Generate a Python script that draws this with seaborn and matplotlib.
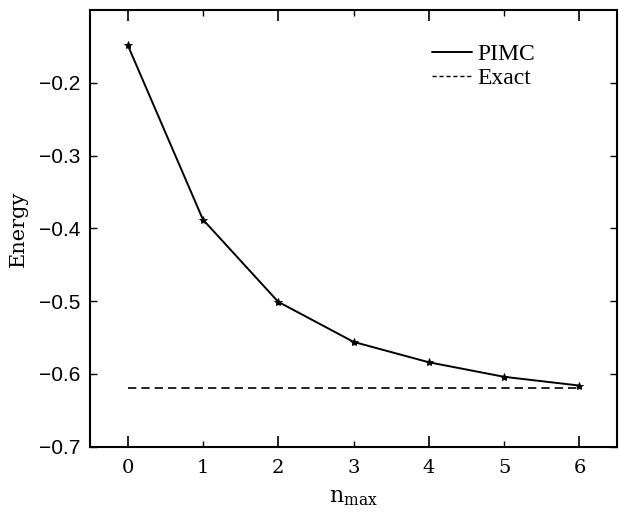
import matplotlib
matplotlib.use("Agg")
import matplotlib.pyplot as plt
import seaborn as sns
import pandas as pd
from matplotlib.lines import Line2D

# data
n_max = [0, 1, 2, 3, 4, 5, 6]
pimc = [-0.148, -0.388, -0.501, -0.556, -0.584, -0.604, -0.616]
exact = [-0.620] * 7

sns.set_style("ticks")
plt.rcParams['font.family'] = ['DejaVu Serif']
plt.rcParams['text.color'] = 'black'
plt.rcParams['axes.labelcolor'] = 'black'
plt.rcParams['xtick.color'] = 'black'
plt.rcParams['ytick.color'] = 'black'
plt.rcParams['axes.edgecolor'] = 'black'

df = pd.DataFrame({"n_max": n_max, "PIMC": pimc, "Exact": exact})

fig = plt.figure(figsize=(6.19, 5.15), dpi=100)
ax = fig.add_axes([0.1454, 0.1326, 0.8516, 0.848])

sns.lineplot(data=df, x="n_max", y="PIMC", ax=ax, color="black", lw=1.4,
             marker="*", markersize=6, markeredgewidth=0.6,
             markeredgecolor="black", markerfacecolor="black")
sns.lineplot(data=df, x="n_max", y="Exact", ax=ax, color="black", lw=1.2,
             dashes=(5, 3))

ax.set_xlim(-0.5, 6.5)
ax.set_ylim(-0.7, -0.1)

# long ticks on even, short on odd, everything pointing inward
ax.set_xticks([0, 2, 4, 6])
ax.set_xticks([1, 3, 5], minor=True)
ax.set_xticklabels(["0", "2", "4", "6"])
ax.set_xticklabels(["1", "3", "5"], minor=True)
ax.set_yticks([-0.7, -0.6, -0.5, -0.4, -0.3, -0.2])
ax.set_yticklabels(["\u22120.7", "\u22120.6", "\u22120.5", "\u22120.4", "\u22120.3", "\u22120.2"],
                   family="Liberation Sans")
ax.tick_params(axis="x", which="major", direction="in", length=8, width=1.2,
               top=True, labelsize=14, pad=9)
ax.tick_params(axis="x", which="minor", direction="in", length=4, width=1.0,
               top=True, labelsize=14, pad=9)
ax.tick_params(axis="y", direction="in", length=5, width=1.0, right=True,
               labelsize=15, pad=7)

for s in ax.spines.values():
    s.set_linewidth(1.5)
    s.set_visible(True)

ax.set_xlabel("n$_{\\mathregular{max}}$", fontsize=16, labelpad=6)
ax.set_ylabel("Energy", fontsize=15, labelpad=8)

handles = [Line2D([], [], color="black", lw=1.4),
           Line2D([], [], color="black", lw=1.0, dashes=(3, 2))]
ax.legend(handles, ["PIMC", "Exact"], loc="upper left",
          bbox_to_anchor=(0.63, 0.945), frameon=False,
          prop={"family": "Liberation Serif", "size": 17},
          handlelength=1.7, handletextpad=0.25, labelspacing=0.1,
          borderaxespad=0)

fig.savefig("out.png", dpi=100)
